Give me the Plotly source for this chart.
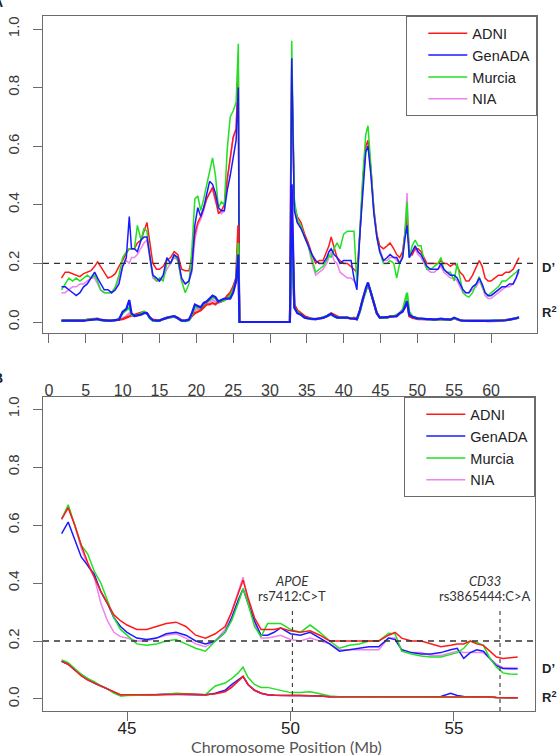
import plotly.graph_objects as go

W, H = 557, 755

cohorts = ["ADNI", "GenADA", "Murcia", "NIA"]
colors = ["#FF1A1A", "#1A1AFF", "#22E022", "#EE82EE"]

# ---------------- Panel A (whole chromosome, Mb) ----------------
top_x = [
    1.7, 2.2, 2.7, 3.2, 3.7, 4.2, 4.7, 5.2, 5.7, 6.2,
    6.6, 7.0, 7.5, 8.0, 8.5, 9.0, 9.5, 10.0, 10.5, 10.9,
    11.2, 11.6, 12.0, 12.5, 12.9, 13.3, 13.7, 14.1, 14.6, 15.0,
    15.5, 16.0, 16.5, 17.0, 17.5, 18.0, 18.5, 19.0, 19.4, 19.8,
    20.2, 20.6, 21.0, 21.4, 21.8, 22.2, 22.6, 23.0, 23.4, 23.8,
    24.2, 24.6, 25.0, 25.4, 25.7, 25.85, 32.7, 32.8, 32.95, 33.3,
    33.7, 34.2, 34.7, 35.2, 35.7, 36.2, 36.7, 37.2, 37.7, 38.0,
    38.3, 38.7, 39.1, 39.5, 40.0, 40.5, 41.0, 41.4, 41.8, 42.2,
    42.6, 43.0, 43.3, 43.7, 44.1, 44.5, 44.9, 45.4, 45.9, 46.3,
    46.8, 47.2, 47.6, 48.0, 48.3, 48.6, 48.9, 49.3, 49.7, 50.1,
    50.5, 50.9, 51.3, 51.8, 52.3, 52.8, 53.2, 53.6, 54.0, 54.5,
    55.0, 55.4, 55.8, 56.2, 56.6, 57.0, 57.5, 58.0, 58.4, 58.8,
    59.2, 59.6, 60.0, 60.5, 61.0, 61.5, 62.0, 62.5, 63.0, 63.4,
    63.8,
]

top_d_adni = [
    0.15, 0.17, 0.17, 0.165, 0.16, 0.155, 0.165, 0.17, 0.175, 0.19,
    0.205, 0.19, 0.17, 0.15, 0.155, 0.165, 0.19, 0.21, 0.235, 0.25,
    0.25, 0.25, 0.27, 0.28, 0.31, 0.34, 0.27, 0.2, 0.18, 0.18,
    0.19, 0.21, 0.22, 0.24, 0.23, 0.18, 0.175, 0.175, 0.22, 0.3,
    0.34, 0.36, 0.39, 0.42, 0.44, 0.46, 0.42, 0.37, 0.38, 0.4,
    0.49, 0.57, 0.63, 0.66, 0.86, 0, 0, 0.5, 0.88, 0.4,
    0.36, 0.34, 0.3, 0.27, 0.23, 0.2, 0.21, 0.21, 0.24, 0.26,
    0.29, 0.25, 0.22, 0.21, 0.2, 0.2, 0.19, 0.18, 0.17, 0.3,
    0.48, 0.6, 0.62, 0.52, 0.38, 0.3, 0.26, 0.25, 0.26, 0.27,
    0.25, 0.23, 0.22, 0.24, 0.3, 0.36, 0.24, 0.23, 0.25, 0.25,
    0.24, 0.22, 0.2, 0.2, 0.2, 0.2, 0.21, 0.2, 0.2, 0.19,
    0.2, 0.19, 0.17, 0.16, 0.14, 0.14, 0.16, 0.19, 0.21, 0.19,
    0.15, 0.14, 0.14, 0.15, 0.16, 0.16, 0.17, 0.17, 0.18, 0.2,
    0.22,
]
top_d_genada = [
    0.12, 0.12, 0.11, 0.10, 0.09, 0.10, 0.12, 0.13, 0.15, 0.17,
    0.15, 0.13, 0.11, 0.11, 0.10, 0.11, 0.13, 0.19, 0.22, 0.36,
    0.25, 0.25, 0.24, 0.28, 0.29, 0.29, 0.22, 0.16, 0.15, 0.14,
    0.16, 0.22, 0.2, 0.23, 0.22, 0.15, 0.13, 0.14, 0.18, 0.33,
    0.39, 0.36, 0.39, 0.43, 0.48, 0.47, 0.44, 0.39, 0.38, 0.38,
    0.45, 0.5, 0.56, 0.62, 0.8, 0, 0, 0.45, 0.9, 0.38,
    0.34, 0.32, 0.29, 0.26, 0.23, 0.21, 0.2, 0.2, 0.22, 0.24,
    0.25, 0.23, 0.22, 0.2, 0.21, 0.21, 0.21, 0.15, 0.11, 0.3,
    0.46, 0.58, 0.6, 0.5, 0.37, 0.29, 0.24, 0.21, 0.22, 0.23,
    0.22, 0.22, 0.2, 0.22, 0.28, 0.33, 0.22, 0.24, 0.26, 0.24,
    0.23, 0.21, 0.19, 0.18, 0.18, 0.18, 0.2, 0.18, 0.17, 0.16,
    0.16, 0.15, 0.13, 0.11, 0.1, 0.1, 0.12, 0.13, 0.15, 0.13,
    0.1, 0.09, 0.09, 0.1, 0.11, 0.12, 0.12, 0.13, 0.13, 0.15,
    0.18,
]
top_d_murcia = [
    0.11, 0.13, 0.15, 0.14, 0.15, 0.14, 0.15, 0.16, 0.15, 0.16,
    0.14, 0.11, 0.10, 0.10, 0.10, 0.12, 0.16, 0.22, 0.24, 0.25,
    0.25, 0.25, 0.33, 0.28, 0.32, 0.31, 0.22, 0.16, 0.14, 0.15,
    0.14, 0.2, 0.2, 0.23, 0.21, 0.14, 0.1, 0.13, 0.25, 0.42,
    0.43, 0.38, 0.42, 0.47, 0.51, 0.56, 0.5, 0.39, 0.41, 0.4,
    0.59, 0.7, 0.72, 0.75, 0.95, 0, 0, 0.55, 0.96, 0.42,
    0.35, 0.33, 0.29, 0.26, 0.21, 0.17, 0.18, 0.19, 0.21, 0.23,
    0.22, 0.25, 0.27, 0.25, 0.3, 0.31, 0.31, 0.31, 0.13, 0.32,
    0.5, 0.64, 0.67, 0.53, 0.38, 0.29, 0.24, 0.2, 0.2, 0.21,
    0.2, 0.15, 0.2, 0.22, 0.3, 0.41, 0.22, 0.26, 0.28, 0.26,
    0.26, 0.21, 0.18, 0.18, 0.19, 0.2, 0.22, 0.18, 0.17, 0.17,
    0.14, 0.2, 0.15, 0.1, 0.09, 0.085, 0.1, 0.13, 0.155, 0.12,
    0.1, 0.09, 0.1, 0.11, 0.12, 0.14, 0.14, 0.15, 0.16, 0.17,
    0.18,
]
top_d_nia = [
    0.10, 0.10, 0.11, 0.12, 0.12, 0.13, 0.13, 0.14, 0.15, 0.15,
    0.13, 0.11, 0.10, 0.10, 0.10, 0.11, 0.15, 0.19, 0.21, 0.2,
    0.22, 0.22, 0.23, 0.25, 0.27, 0.28, 0.21, 0.15, 0.14, 0.14,
    0.15, 0.18, 0.2, 0.22, 0.21, 0.14, 0.13, 0.14, 0.17, 0.28,
    0.33, 0.35, 0.38, 0.42, 0.44, 0.45, 0.41, 0.38, 0.37, 0.38,
    0.48, 0.55, 0.63, 0.66, 0.84, 0, 0, 0.45, 0.87, 0.4,
    0.34, 0.32, 0.29, 0.26, 0.2, 0.16, 0.17, 0.18, 0.2, 0.22,
    0.24, 0.21, 0.2, 0.17, 0.16, 0.15, 0.15, 0.14, 0.13, 0.3,
    0.47, 0.59, 0.61, 0.52, 0.39, 0.3, 0.25, 0.21, 0.21, 0.22,
    0.22, 0.21, 0.2, 0.23, 0.3, 0.44, 0.22, 0.23, 0.25, 0.23,
    0.22, 0.2, 0.18, 0.17, 0.17, 0.18, 0.19, 0.17, 0.16, 0.15,
    0.15, 0.14, 0.12, 0.1, 0.1, 0.1, 0.11, 0.12, 0.14, 0.12,
    0.09, 0.08, 0.08, 0.09, 0.1, 0.11, 0.12, 0.12, 0.13, 0.15,
    0.17,
]

top_r2_adni = [
    0.005, 0.005, 0.005, 0.005, 0.003, 0.003, 0.005, 0.008, 0.01, 0.012,
    0.012, 0.008, 0.005, 0.005, 0.005, 0.006, 0.008, 0.01, 0.015, 0.02,
    0.022, 0.025, 0.028, 0.03, 0.035, 0.03, 0.015, 0.008, 0.005, 0.005,
    0.01, 0.015, 0.017, 0.02, 0.015, 0.005, 0.005, 0.008, 0.02, 0.03,
    0.035, 0.04, 0.05, 0.06, 0.06, 0.065, 0.06, 0.07, 0.07, 0.075,
    0.09, 0.1, 0.12, 0.15, 0.33, 0, 0, 0.15, 0.4, 0.06,
    0.04, 0.03, 0.02, 0.015, 0.01, 0.01, 0.012, 0.015, 0.02, 0.025,
    0.03, 0.025, 0.02, 0.015, 0.015, 0.015, 0.012, 0.015, 0.01, 0.04,
    0.08, 0.11, 0.13, 0.1, 0.06, 0.03, 0.015, 0.015, 0.015, 0.02,
    0.02, 0.02, 0.03, 0.04, 0.05, 0.07, 0.02, 0.015, 0.012, 0.01,
    0.01, 0.01, 0.01, 0.008, 0.008, 0.01, 0.01, 0.008, 0.008, 0.008,
    0.012, 0.008, 0.006, 0.005, 0.005, 0.005, 0.005, 0.005, 0.006, 0.005,
    0.004, 0.003, 0.003, 0.003, 0.004, 0.005, 0.006, 0.008, 0.01, 0.013,
    0.015,
]
top_r2_genada = [
    0.005, 0.005, 0.004, 0.004, 0.003, 0.004, 0.005, 0.006, 0.008, 0.01,
    0.01, 0.007, 0.005, 0.005, 0.005, 0.006, 0.008, 0.035, 0.045, 0.075,
    0.03, 0.02, 0.022, 0.025, 0.03, 0.03, 0.015, 0.006, 0.005, 0.005,
    0.01, 0.015, 0.018, 0.02, 0.012, 0.005, 0.005, 0.008, 0.03, 0.06,
    0.055, 0.05, 0.065, 0.07, 0.08, 0.09, 0.085, 0.07, 0.075, 0.08,
    0.08, 0.08, 0.1, 0.14, 0.23, 0, 0, 0.2, 0.47, 0.05,
    0.03, 0.025, 0.015, 0.012, 0.01, 0.01, 0.012, 0.014, 0.02, 0.025,
    0.028, 0.02, 0.015, 0.015, 0.015, 0.015, 0.012, 0.01, 0.01, 0.04,
    0.08, 0.115, 0.135, 0.1, 0.06, 0.03, 0.015, 0.015, 0.017, 0.018,
    0.018, 0.02, 0.03, 0.035, 0.05, 0.07, 0.025, 0.018, 0.015, 0.012,
    0.012, 0.01, 0.01, 0.01, 0.008, 0.01, 0.012, 0.01, 0.008, 0.008,
    0.015, 0.01, 0.006, 0.005, 0.004, 0.004, 0.004, 0.004, 0.005, 0.004,
    0.004, 0.004, 0.004, 0.004, 0.005, 0.005, 0.006, 0.008, 0.01, 0.013,
    0.016,
]
top_r2_murcia = [
    0.004, 0.004, 0.004, 0.004, 0.004, 0.005, 0.006, 0.007, 0.009, 0.01,
    0.01, 0.006, 0.005, 0.005, 0.005, 0.006, 0.01, 0.03, 0.04, 0.05,
    0.025, 0.02, 0.022, 0.03, 0.035, 0.03, 0.012, 0.005, 0.004, 0.004,
    0.01, 0.015, 0.016, 0.018, 0.012, 0.004, 0.003, 0.006, 0.025, 0.05,
    0.05, 0.05, 0.06, 0.07, 0.075, 0.085, 0.08, 0.07, 0.07, 0.075,
    0.08, 0.09, 0.11, 0.14, 0.27, 0, 0, 0.15, 0.3, 0.05,
    0.035, 0.025, 0.015, 0.012, 0.01, 0.01, 0.012, 0.015, 0.02, 0.025,
    0.025, 0.02, 0.015, 0.015, 0.015, 0.015, 0.012, 0.012, 0.008, 0.035,
    0.075, 0.11, 0.13, 0.1, 0.06, 0.03, 0.015, 0.015, 0.015, 0.018,
    0.02, 0.025, 0.03, 0.04, 0.07, 0.1, 0.035, 0.02, 0.015, 0.012,
    0.012, 0.01, 0.01, 0.008, 0.008, 0.01, 0.01, 0.008, 0.008, 0.008,
    0.012, 0.008, 0.006, 0.005, 0.004, 0.004, 0.004, 0.004, 0.005, 0.004,
    0.004, 0.004, 0.004, 0.004, 0.005, 0.005, 0.006, 0.008, 0.01, 0.012,
    0.015,
]
top_r2_nia = [
    0.004, 0.004, 0.004, 0.004, 0.003, 0.003, 0.004, 0.007, 0.009, 0.011,
    0.011, 0.007, 0.005, 0.005, 0.005, 0.006, 0.008, 0.012, 0.02, 0.03,
    0.022, 0.02, 0.025, 0.028, 0.032, 0.03, 0.014, 0.006, 0.005, 0.005,
    0.01, 0.014, 0.016, 0.018, 0.013, 0.005, 0.004, 0.007, 0.02, 0.04,
    0.045, 0.045, 0.055, 0.065, 0.07, 0.075, 0.07, 0.065, 0.07, 0.075,
    0.08, 0.09, 0.11, 0.14, 0.2, 0, 0, 0.15, 0.3, 0.05,
    0.035, 0.025, 0.018, 0.013, 0.01, 0.01, 0.012, 0.014, 0.018, 0.022,
    0.025, 0.02, 0.016, 0.014, 0.014, 0.014, 0.012, 0.012, 0.009, 0.035,
    0.075, 0.11, 0.13, 0.1, 0.06, 0.03, 0.015, 0.015, 0.015, 0.018,
    0.018, 0.02, 0.028, 0.035, 0.05, 0.075, 0.025, 0.016, 0.013, 0.011,
    0.011, 0.01, 0.01, 0.008, 0.008, 0.01, 0.01, 0.008, 0.008, 0.008,
    0.012, 0.008, 0.006, 0.005, 0.004, 0.004, 0.004, 0.004, 0.005, 0.004,
    0.004, 0.003, 0.003, 0.003, 0.004, 0.005, 0.006, 0.008, 0.01, 0.012,
    0.014,
]

# ---------------- Panel B (zoom 43-57 Mb) ----------------
bot_x = [
    43.0, 43.2, 43.4, 43.6, 43.8, 44.0, 44.2, 44.4, 44.6, 44.8,
    45.0, 45.3, 45.6, 45.9, 46.2, 46.5, 46.8, 47.1, 47.4, 47.7,
    48.0, 48.2, 48.4, 48.55, 48.7, 48.9, 49.1, 49.3, 49.5, 49.7,
    50.0, 50.3, 50.6, 50.9, 51.2, 51.5, 51.8, 52.1, 52.4, 52.7,
    53.0, 53.2, 53.4, 53.7, 54.0, 54.3, 54.6, 54.9, 55.1, 55.3,
    55.5, 55.7, 55.9, 56.1, 56.3, 56.5, 56.7, 56.95,
]
bot_d_adni = [
    0.62, 0.66, 0.6, 0.53, 0.47, 0.42, 0.37, 0.33, 0.29, 0.27,
    0.255, 0.24, 0.24, 0.25, 0.26, 0.265, 0.25, 0.22, 0.21, 0.225,
    0.25, 0.3, 0.36, 0.41, 0.35, 0.28, 0.24, 0.24, 0.24, 0.245,
    0.235, 0.23, 0.235, 0.22, 0.2, 0.2, 0.2, 0.2, 0.2, 0.2,
    0.22, 0.23, 0.21, 0.2, 0.2, 0.19, 0.18, 0.185, 0.19, 0.19,
    0.2, 0.19, 0.185, 0.165, 0.145, 0.14, 0.142, 0.145,
]
bot_d_genada = [
    0.57, 0.61, 0.55, 0.49, 0.46, 0.43, 0.37, 0.33, 0.28, 0.25,
    0.23, 0.21, 0.205, 0.21, 0.225, 0.23, 0.22, 0.2, 0.19, 0.2,
    0.23, 0.28, 0.34, 0.38, 0.33, 0.27, 0.22, 0.22, 0.23, 0.245,
    0.225, 0.22, 0.23, 0.21, 0.19, 0.165, 0.17, 0.175, 0.18, 0.18,
    0.21, 0.205, 0.17, 0.16, 0.155, 0.155, 0.16, 0.17, 0.175, 0.14,
    0.16, 0.17, 0.165, 0.14, 0.115, 0.105, 0.104, 0.104,
]
bot_d_murcia = [
    0.62, 0.67, 0.6, 0.53, 0.5, 0.44, 0.4, 0.34, 0.28, 0.24,
    0.22, 0.19, 0.185, 0.19, 0.2, 0.205, 0.19, 0.175, 0.165, 0.2,
    0.23, 0.27, 0.33, 0.38, 0.33, 0.25, 0.215, 0.26, 0.26, 0.26,
    0.24, 0.23, 0.255, 0.23, 0.2, 0.175, 0.185, 0.19, 0.2, 0.2,
    0.227, 0.225, 0.165, 0.155, 0.148, 0.145, 0.145, 0.155, 0.16, 0.175,
    0.2, 0.195, 0.185, 0.14, 0.11, 0.09, 0.086, 0.085,
]
bot_d_nia = [
    0.62, 0.66, 0.6, 0.52, 0.46, 0.42, 0.33, 0.27, 0.23, 0.215,
    0.21, 0.2, 0.2, 0.21, 0.22, 0.225, 0.21, 0.19, 0.18, 0.2,
    0.24, 0.3, 0.37, 0.42, 0.34, 0.26, 0.21, 0.21, 0.215, 0.22,
    0.205, 0.2, 0.21, 0.2, 0.19, 0.17, 0.17, 0.17, 0.17, 0.17,
    0.21, 0.21, 0.17, 0.16, 0.16, 0.15, 0.15, 0.16, 0.165, 0.16,
    0.16, 0.16, 0.16, 0.14, 0.12, 0.108, 0.107, 0.107,
]
bot_r2_adni = [
    0.13, 0.12, 0.1, 0.08, 0.065, 0.055, 0.045, 0.035, 0.025, 0.015,
    0.015, 0.014, 0.015, 0.015, 0.016, 0.017, 0.017, 0.016, 0.015, 0.018,
    0.025, 0.04, 0.06, 0.078, 0.05, 0.03, 0.02, 0.015, 0.013, 0.012,
    0.012, 0.012, 0.012, 0.01, 0.008, 0.008, 0.008, 0.008, 0.008, 0.008,
    0.008, 0.008, 0.008, 0.008, 0.008, 0.008, 0.008, 0.009, 0.009, 0.009,
    0.009, 0.009, 0.008, 0.007, 0.005, 0.004, 0.004, 0.004,
]
bot_r2_genada = [
    0.13, 0.12, 0.1, 0.085, 0.07, 0.055, 0.045, 0.035, 0.022, 0.012,
    0.013, 0.013, 0.014, 0.015, 0.016, 0.016, 0.016, 0.014, 0.014, 0.02,
    0.03, 0.05, 0.065, 0.078, 0.05, 0.03, 0.02, 0.015, 0.013, 0.012,
    0.012, 0.012, 0.012, 0.01, 0.008, 0.008, 0.008, 0.008, 0.008, 0.008,
    0.008, 0.008, 0.008, 0.008, 0.008, 0.008, 0.009, 0.02, 0.012, 0.009,
    0.009, 0.009, 0.008, 0.007, 0.005, 0.004, 0.004, 0.004,
]
bot_r2_murcia = [
    0.135, 0.125, 0.105, 0.085, 0.07, 0.06, 0.045, 0.035, 0.02, 0.01,
    0.012, 0.012, 0.014, 0.015, 0.016, 0.02, 0.018, 0.015, 0.015, 0.045,
    0.055, 0.07, 0.09, 0.11, 0.075, 0.05, 0.04, 0.04, 0.035, 0.03,
    0.022, 0.022, 0.025, 0.018, 0.01, 0.008, 0.008, 0.008, 0.008, 0.008,
    0.008, 0.008, 0.008, 0.008, 0.008, 0.008, 0.008, 0.008, 0.008, 0.008,
    0.008, 0.008, 0.007, 0.006, 0.005, 0.004, 0.004, 0.004,
]
bot_r2_nia = [
    0.13, 0.12, 0.1, 0.082, 0.066, 0.055, 0.045, 0.035, 0.024, 0.014,
    0.014, 0.014, 0.015, 0.015, 0.016, 0.017, 0.017, 0.016, 0.015, 0.018,
    0.027, 0.045, 0.062, 0.078, 0.05, 0.03, 0.02, 0.015, 0.013, 0.012,
    0.012, 0.012, 0.012, 0.01, 0.008, 0.008, 0.008, 0.008, 0.008, 0.008,
    0.008, 0.008, 0.008, 0.008, 0.008, 0.008, 0.008, 0.009, 0.009, 0.009,
    0.009, 0.009, 0.008, 0.007, 0.005, 0.004, 0.004, 0.004,
]

y_ticks = [0.0, 0.2, 0.4, 0.6, 0.8, 1.0]
y_ticktext = ["0.0", "0.2", "0.4", "0.6", "0.8", "1.0"]
top_xticks = [0, 5, 10, 15, 20, 25, 30, 35, 40, 45, 50, 55, 60]
bot_xticks = [45, 50, 55]
threshold = 0.2
snp_pos = [50.06, 56.41]
snp_gene = ["APOE", "CD33"]
snp_id = ["rs7412:C>T", "rs3865444:C>A"]

top_d = [top_d_adni, top_d_genada, top_d_murcia, top_d_nia]
top_r2 = [top_r2_adni, top_r2_genada, top_r2_murcia, top_r2_nia]
bot_d = [bot_d_adni, bot_d_genada, bot_d_murcia, bot_d_nia]
bot_r2 = [bot_r2_adni, bot_r2_genada, bot_r2_murcia, bot_r2_nia]

for arr in top_d + top_r2:
    assert len(arr) == len(top_x), len(arr)
for arr in bot_d + bot_r2:
    assert len(arr) == len(bot_x), len(arr)

fig = go.Figure()

top_order = [3, 0, 2, 1]   # drawing order (blue on top)
bot_order = [3, 1, 2, 0]   # drawing order (red on top)

for i in top_order:
    fig.add_trace(go.Scatter(x=top_x, y=top_d[i], mode="lines", name=cohorts[i],
                             line=dict(color=colors[i], width=1.5),
                             legend="legend", legendrank=i + 1,
                             xaxis="x", yaxis="y"))
for i in top_order:
    fig.add_trace(go.Scatter(x=top_x, y=top_r2[i], mode="lines", name=cohorts[i],
                             line=dict(color=colors[i], width=2.2),
                             showlegend=False, xaxis="x", yaxis="y"))
for i in bot_order:
    fig.add_trace(go.Scatter(x=bot_x, y=bot_d[i], mode="lines", name=cohorts[i],
                             line=dict(color=colors[i], width=1.5),
                             legend="legend2", legendrank=i + 1,
                             xaxis="x2", yaxis="y2"))
for i in bot_order:
    fig.add_trace(go.Scatter(x=bot_x, y=bot_r2[i], mode="lines", name=cohorts[i],
                             line=dict(color=colors[i], width=1.5),
                             showlegend=False, xaxis="x2", yaxis="y2"))

def px_x(p):
    return p / W

def px_y(p):
    return 1 - p / H

axis_grey = "#6b6b6b"
tick_font = dict(family="Liberation Sans, Arial, sans-serif", size=16, color="#3a3a3a")

common_axis = dict(showline=True, linecolor=axis_grey, linewidth=1.3, mirror=True,
                   ticks="outside", ticklen=9, tickcolor=axis_grey, tickwidth=1.3,
                   showgrid=False, zeroline=False, fixedrange=True)

legend_font = dict(family="Liberation Sans, Arial, sans-serif", size=14.5, color="#222")

fig.update_layout(
    width=W, height=H,
    margin=dict(l=0, r=0, t=0, b=0),
    paper_bgcolor="white", plot_bgcolor="white",
    xaxis=dict(domain=[px_x(43), px_x(537)], range=[-0.81, 66.24], anchor="y",
               tickvals=top_xticks, tickfont=tick_font, ticklabelstandoff=34, **common_axis),
    yaxis=dict(domain=[px_y(333), px_y(16)], range=[-0.0375, 1.0444], anchor="x",
               tickvals=y_ticks, ticktext=y_ticktext, tickangle=-90,
               tickfont=dict(tick_font, size=15), ticklabelstandoff=8, **common_axis),
    xaxis2=dict(domain=[px_x(43), px_x(535)], range=[42.43, 57.48], anchor="y2",
                tickvals=bot_xticks, tickfont=dict(tick_font, size=17, color="#222222"),
                ticklabelstandoff=-8, **common_axis),
    yaxis2=dict(domain=[px_y(711), px_y(397)], range=[-0.0414, 1.0414], anchor="x2",
                tickvals=y_ticks, ticktext=y_ticktext, tickangle=-90,
                tickfont=dict(tick_font, size=15), ticklabelstandoff=8, **common_axis),
    legend=dict(x=px_x(537), xanchor="right", y=px_y(16), yanchor="top",
                bordercolor=axis_grey, borderwidth=1.3, bgcolor="white",
                font=legend_font, itemwidth=39, tracegroupgap=0, indentation=16),
    legend2=dict(x=px_x(535), xanchor="right", y=px_y(397), yanchor="top",
                 bordercolor=axis_grey, borderwidth=1.3, bgcolor="white",
                 font=legend_font, itemwidth=39, tracegroupgap=0, indentation=16),
    showlegend=True,
)

# threshold dashed lines
for xa, ya in [("x", "y"), ("x2", "y2")]:
    fig.add_shape(type="line", xref=f"{xa} domain", x0=0, x1=1, yref=ya,
                  y0=threshold, y1=threshold,
                  line=dict(color="#333333", width=1.3, dash="6px,5px"))

# SNP markers in panel B
for pos in snp_pos:
    fig.add_shape(type="line", xref="x2", x0=pos, x1=pos, yref="y2 domain",
                  y0=0, y1=(711 - 607) / (711 - 397),
                  line=dict(color="#444444", width=1.2, dash="4px,4px"))

label_font = dict(family="Lato, Open Sans, sans-serif", size=13, color="#333333")
for pos, gene, sid in zip(snp_pos, snp_gene, snp_id):
    xc = pos if pos < 55 else pos - 0.45
    fig.add_annotation(x=xc, xref="x2", y=px_y(581), yref="paper", text=f"<i>{gene}</i>",
                       showarrow=False, font=label_font, xanchor="center", yanchor="middle")
    fig.add_annotation(x=xc, xref="x2", y=px_y(596), yref="paper", text=sid,
                       showarrow=False, font=label_font, xanchor="center", yanchor="middle")

# D' and R2 labels on the right
side_font = dict(family="Liberation Sans, Arial, sans-serif", size=13, color="#222222")
for ypx, txt in [(268, "<b>D’</b>"), (312, "<b>R<sup>2</sup></b>"),
                 (668, "<b>D’</b>"), (697, "<b>R<sup>2</sup></b>")]:
    fig.add_annotation(x=px_x(540), xref="paper", y=px_y(ypx), yref="paper", text=txt,
                       showarrow=False, font=side_font, xanchor="left", yanchor="middle")

# panel letters (partially cut at the left edge, as in the source figure)
for ypx, txt in [(2, "<b>A</b>"), (378, "<b>B</b>")]:
    fig.add_annotation(x=px_x(-2), xref="paper", y=px_y(ypx), yref="paper", text=txt,
                       showarrow=False, font=dict(family="Liberation Sans", size=14, color="#222"),
                       xanchor="center", yanchor="middle")

# x-axis title for panel B
fig.add_annotation(x=px_x(286), xref="paper", y=px_y(746.5), yref="paper",
                   text="Chromosome Position (Mb)", showarrow=False,
                   font=dict(family="Lato, Open Sans, sans-serif", size=16, color="#555555"),
                   xanchor="center", yanchor="middle")

fig.write_html("out.html")
